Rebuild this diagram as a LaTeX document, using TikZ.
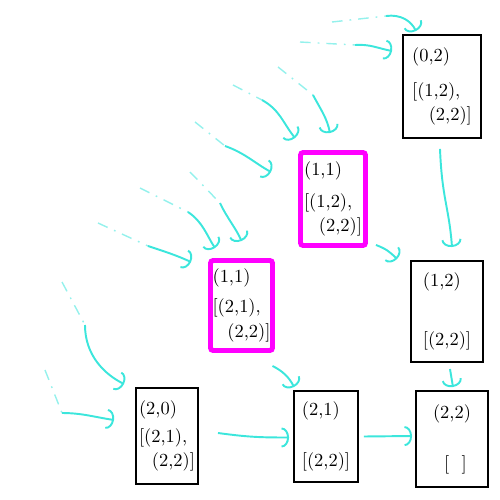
\documentclass[tikz,border=0pt]{standalone}
\usepackage{tikz}
\usetikzlibrary{arrows.meta,calc}
\definecolor{flow}{RGB}{60,230,220}
\definecolor{pick}{RGB}{255,0,255}

\begin{document}
\begin{tikzpicture}[
  x=0.2mm, y=-0.2mm,
  every node/.style={font=\fontsize{10.5}{14}\selectfont},
  cell/.style={draw=black, line width=1.1pt, align=left, inner sep=0pt},
  picked/.style={draw=pick, line width=2.8pt, rounded corners=1.5pt, align=left, inner sep=0pt},
  link/.style={draw=flow, line width=1.1pt, -{Arc Barb[width=4mm,length=1.5mm]}},
  trail/.style={draw=flow!55, line width=0.8pt, dash pattern=on 6pt off 4pt on 1pt off 4pt},
]
\useasboundingbox (0,0) rectangle (500,500);

%% ── Cells ───────────────────────────────────────────────────────────────
\node[cell, minimum width=15.6mm, minimum height=20.6mm] (b02) at (442,86.5)
  {(0,2)\\[6pt]{}[(1,2),\\\hspace*{0.9em}(2,2)]};
\node[picked, minimum width=13mm, minimum height=18.6mm] (m11a) at (333,199)
  {(1,1)\\[4pt]{}[(1,2),\\\hspace*{0.8em}(2,2)]};
\node[cell, minimum width=14.4mm, minimum height=20.2mm] (b12) at (447,311.5)
  {(1,2)\\[20pt]{}[(2,2)]};
\node[picked, minimum width=12.4mm, minimum height=18mm] (m11b) at (241.5,305.5)
  {(1,1)\\[3pt]{}[(2,1),\\\hspace*{0.8em}(2,2)]};
\node[cell, minimum width=12.4mm, minimum height=19.2mm] (b20) at (167,436)
  {(2,0)\\[2pt]{}[(2,1),\\\hspace*{0.7em}(2,2)]};
\node[cell, minimum width=12.8mm, minimum height=18.2mm] (b21) at (326,436.5)
  {(2,1)\\[15pt]{}[(2,2)]};
\node[cell, minimum width=14.4mm, minimum height=19.2mm] (b22) at (452,439)
  {(2,2)\\[15pt]\hspace*{0.6em}[\ \ ]};

%% ── Loose ends of the incoming arrows ───────────────────────────────────
\coordinate (s1) at (332,22);  \coordinate (k1) at (386,16);
\coordinate (s2) at (300,42);  \coordinate (k2) at (355,45);
\coordinate (s4) at (233,85);  \coordinate (k4) at (262,100);
\coordinate (s5) at (278,67);  \coordinate (k5) at (313,95);
\coordinate (s6) at (195,122); \coordinate (k6) at (225,146);
\coordinate (s8) at (140,188); \coordinate (k8) at (188,212);
\coordinate (s9) at (190,172); \coordinate (k9) at (220,203);
\coordinate (s10) at (98,223); \coordinate (k10) at (148,246);
\coordinate (s12) at (62,282); \coordinate (k12) at (85,325);
\coordinate (s13) at (45,370); \coordinate (k13) at (62,413);

%% faded tails
\foreach \n in {1,2,4,5,6,8,9,10,12,13}
  \draw[trail] (s\n) -- (k\n);

%% ── Into (0,2) ──────────────────────────────────────────────────────────
\draw[link] (k1) .. controls +(15,-2) and +(-5,-10) .. ($(b02.north west)+(14,-3)$);
\draw[link] (k2) .. controls +(15,-1) and +(-15,-3) .. ($(b02.north west)+(-10,17)$);
\draw[link] ($(b02.south)+(-2,10)$) .. controls +(2,50) and +(-3,-40) .. ($(b12.north)+(5,-13)$);

%% ── Into upper (1,1) ────────────────────────────────────────────────────
\draw[link] (k4) .. controls +(18,10) and +(-12,-15) .. ($(m11a.north west)+(-3,-12)$);
\draw[link] (k5) .. controls +(8,15) and +(-3,-15) .. ($(m11a.north)+(-3,-17)$);
\draw[link] (k6) .. controls +(20,7) and +(-15,-8) .. ($(m11a.west)+(-27,-27)$);
\draw[link] ($(m11a.south east)+(8,-3)$) .. controls +(10,4) and +(-8,-8) .. ($(b12.north west)+(-13,-1)$);

%% ── Into lower (1,1) ────────────────────────────────────────────────────
\draw[link] (k8) .. controls +(15,10) and +(-8,-12) .. ($(m11b.north west)+(7,-10)$);
\draw[link] (k9) .. controls +(7,15) and +(-5,-12) .. ($(m11b.north)+(0,-17)$);
\draw[link] (k10) .. controls +(15,5) and +(-15,-7) .. ($(m11b.north west)+(-17,4)$);
\draw[link] ($(m11b.south)+(31,13)$) .. controls +(10,5) and +(-5,-10) .. ($(b21.north west)+(1,-3)$);

%% ── Bottom row ──────────────────────────────────────────────────────────
\draw[link] (k12) .. controls +(0,30) and +(-20,-10) .. ($(b20.north west)+(-11,-3)$);
\draw[link] (k13) .. controls +(20,0) and +(-20,-3) .. ($(b20.west)+(-21,-16)$);
\draw[link] ($(b20.east)+(19,-3)$) .. controls +(30,4) and +(-30,0) .. ($(b21.west)+(-4,1)$);
\draw[link] ($(b21.east)+(5,0)$) -- ($(b22.west)+(-3,-3)$);
\draw[link] ($(b12.south)+(3,6)$) -- ($(b22.north)+(1,-3)$);

\end{tikzpicture}
\end{document}
